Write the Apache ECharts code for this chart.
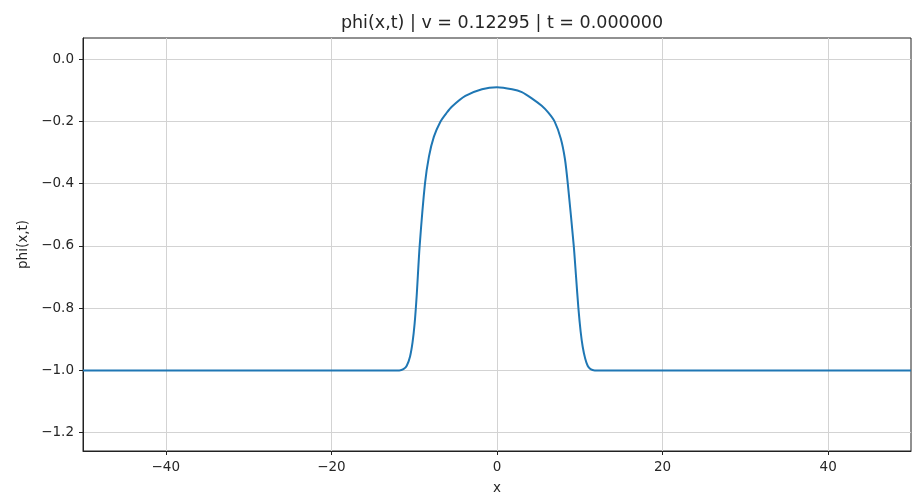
<!DOCTYPE html>
<html>
<head>
<meta charset="utf-8">
<script src="https://cdn.jsdelivr.net/npm/echarts@6/dist/echarts.min.js"></script>
<style>
html,body{margin:0;padding:0;background:#fff;}
#chart{width:913px;height:494px;}
</style>
</head>
<body>
<div id="chart"></div>
<script>
const titleText = 'phi(x,t) | v = 0.12295 | t = 0.000000';
const xAxisLabel = 'x';
const yAxisLabel = 'phi(x,t)';
const xTicks = [-40, -20, 0, 20, 40];
const yTicks = [-1.2, -1.0, -0.8, -0.6, -0.4, -0.2, 0.0];
const xValues = [-50, -13.0, -11.8, -11.3, -10.9, -10.5, -10.2, -9.95, -9.7, -9.34, -8.70, -8.22, -7.62, -6.82, -6.1, -5.43, -3.82, -1.82, 0,
                 1.82, 3.0, 4.2, 5.4, 6.2, 6.95, 7.7, 8.2, 8.55, 9.27, 9.55, 9.83, 10.1, 10.35, 10.65, 10.95, 11.3, 11.8, 13.0, 50];
const phiValues = [-1.0, -1.0, -1.0, -0.996, -0.985, -0.955, -0.91, -0.85, -0.76, -0.60, -0.40, -0.313, -0.249, -0.20, -0.173, -0.152, -0.118, -0.0965, -0.090,
                   -0.0965, -0.106, -0.126, -0.150, -0.172, -0.20, -0.255, -0.32, -0.40, -0.60, -0.70, -0.80, -0.875, -0.924, -0.962, -0.985, -0.996, -1.0, -1.0, -1.0];

const points = xValues.map((x, i) => [x, phiValues[i]]);
const minus = s => String(s).replace('-', '\u2212');
const txt = '#262626';
const font = 'DejaVu Sans';

const chart = echarts.init(document.getElementById('chart'), null, {renderer: 'canvas'});
chart.setOption({
  animation: false,
  backgroundColor: '#fff',
  title: {
    text: titleText,
    left: 497, top: 9, textAlign: 'center',
    textStyle: {fontFamily: font, fontSize: 17.5, fontWeight: 'normal', color: txt}
  },
  grid: {left: 83, right: 2, top: 38, bottom: 43, show: true, borderColor: '#222', borderWidth: 1,
         containLabel: false, outerBoundsMode: 'none'},
  xAxis: {
    type: 'value', min: -50, max: 50,
    name: xAxisLabel, nameLocation: 'middle', nameGap: 30,
    nameTextStyle: {fontFamily: font, fontSize: 13.5, color: txt},
    axisLine: {show: true, onZero: false, lineStyle: {color: '#222', width: 1}},
    axisTick: {show: true, customValues: xTicks, length: 4, lineStyle: {color: '#222'}},
    axisLabel: {customValues: xTicks, formatter: v => minus(Math.round(v)), fontFamily: font, fontSize: 13.5, color: txt, margin: 9},
    splitLine: {show: true, lineStyle: {color: '#d3d3d3', width: 1}}
  },
  yAxis: {
    type: 'value', min: -1.259, max: 0.068,
    name: yAxisLabel, nameLocation: 'middle', nameGap: 50, nameRotate: 90,
    nameTextStyle: {fontFamily: font, fontSize: 13.5, color: txt},
    axisLine: {show: true, onZero: false, lineStyle: {color: '#222', width: 1}},
    axisTick: {show: true, customValues: yTicks, length: 4, lineStyle: {color: '#222'}},
    axisLabel: {customValues: yTicks, formatter: v => minus(v.toFixed(1)), fontFamily: font, fontSize: 13.5, color: txt, margin: 9},
    splitLine: {show: true, lineStyle: {color: '#d3d3d3', width: 1}}
  },
  series: [{
    type: 'line',
    data: points,
    showSymbol: false,
    smooth: 0.25,
    lineStyle: {color: '#1f77b4', width: 2},
    silent: true
  }]
});
</script>
</body>
</html>
